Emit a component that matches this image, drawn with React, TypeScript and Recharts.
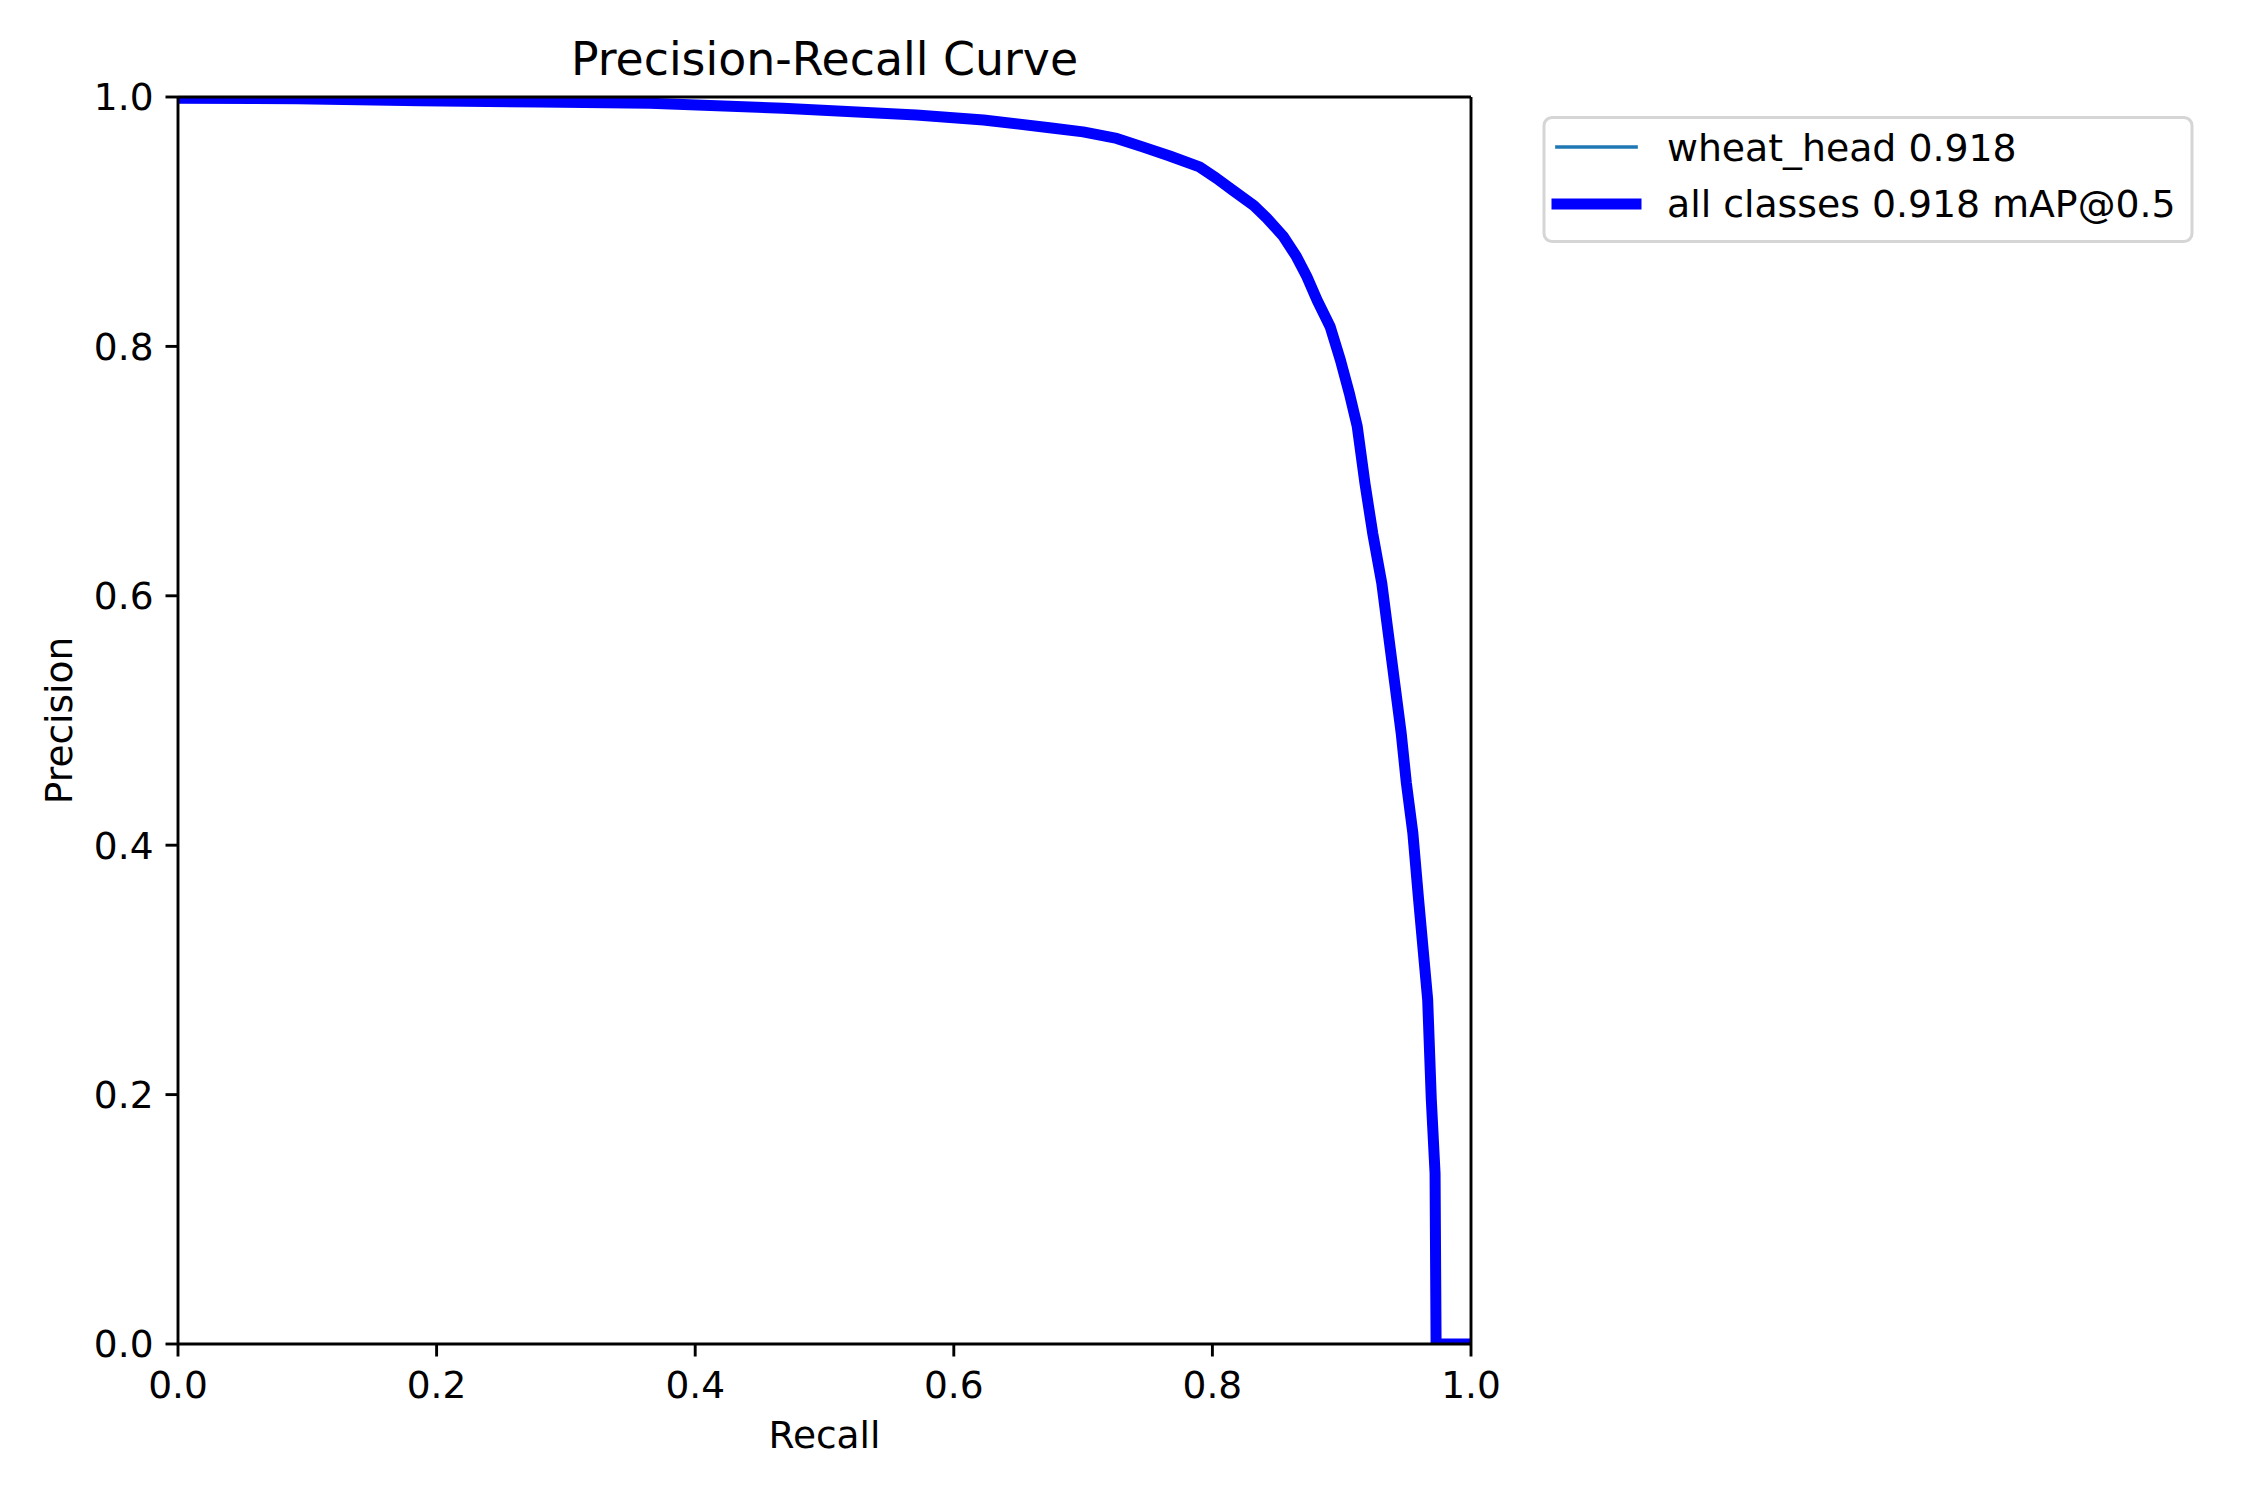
import React from "react";
import { LineChart, Line, XAxis, YAxis, Label, ReferenceLine } from "recharts";

const recall = [0, 0.092, 0.187, 0.28, 0.365, 0.468, 0.571, 0.623, 0.674, 0.7, 0.726, 0.746, 0.767, 0.79, 0.803, 0.816, 0.832, 0.842, 0.855, 0.865, 0.873, 0.881, 0.891, 0.899, 0.906, 0.912, 0.918, 0.924, 0.931, 0.936, 0.941, 0.946, 0.95, 0.955, 0.9595, 0.9665, 0.9693, 0.9722, 0.973, 1.0];
const precision = [0.999, 0.9986, 0.997, 0.996, 0.995, 0.9909, 0.9856, 0.9815, 0.9754, 0.972, 0.9668, 0.96, 0.9527, 0.944, 0.935, 0.925, 0.913, 0.903, 0.888, 0.872, 0.856, 0.837, 0.816, 0.789, 0.762, 0.736, 0.69, 0.65, 0.61, 0.57, 0.53, 0.49, 0.45, 0.41, 0.356, 0.276, 0.196, 0.137, 0.0, 0.0];
const xTicks = [0, 0.2, 0.4, 0.6, 0.8, 1.0];
const yTicks = [0, 0.2, 0.4, 0.6, 0.8, 1.0];
const seriesNames = ["wheat_head 0.918", "all classes 0.918 mAP@0.5"];
const title = "Precision-Recall Curve";

const data = recall.map((r, i) => ({ r, p: precision[i] }));

const FONT = "'DejaVu Sans', sans-serif";
const AX = { stroke: "#000", strokeWidth: 2.9 };

export default function App() {
  return (
    <div style={{ position: "absolute", left: 0, top: 0, width: 2250, height: 1500, background: "#fff" }}>
      <div style={{ position: "absolute", left: 0, top: 0 }}>
        <LineChart width={2250} height={1500} data={data} margin={{ top: 97, right: 779, bottom: 0, left: 0 }}>
          <Line xAxisId="b" yAxisId="l" type="linear" dataKey="p" stroke="#1f77b4" strokeWidth={3.7} dot={false} isAnimationActive={false} strokeLinejoin="round" />
          <Line xAxisId="b" yAxisId="l" type="linear" dataKey="p" stroke="#0000ff" strokeWidth={11} dot={false} isAnimationActive={false} strokeLinejoin="round" />
          <XAxis
            xAxisId="b"
            dataKey="r"
            type="number"
            domain={[0, 1]}
            allowDataOverflow
            ticks={xTicks}
            tickFormatter={(v: number) => v.toFixed(1)}
            height={156}
            tickSize={12.5}
            tickMargin={15}
            axisLine={AX}
            tickLine={AX}
            tick={{ fill: "#000", fontSize: 37.5, fontFamily: FONT }}
            interval={0}
          >
            <Label
              content={(props: any) => {
                const vb = props.viewBox || {};
                return (
                  <text x={vb.x + vb.width / 2} y={1448} textAnchor="middle" fontSize={37.5} fontFamily={FONT} fill="#000">
                    Recall
                  </text>
                );
              }}
            />
          </XAxis>
          <YAxis
            yAxisId="l"
            type="number"
            domain={[0, 1]}
            allowDataOverflow
            ticks={yTicks}
            tickFormatter={(v: number) => v.toFixed(1)}
            width={178}
            tickSize={12.5}
            tickMargin={12}
            axisLine={AX}
            tickLine={AX}
            tick={{ fill: "#000", fontSize: 37.5, fontFamily: FONT }}
            interval={0}
          >
            <Label
              content={(props: any) => {
                const vb = props.viewBox || {};
                const cy = vb.y + vb.height / 2;
                return (
                  <text x={72} y={cy} textAnchor="middle" fontSize={37.5} fontFamily={FONT} fill="#000" transform={`rotate(-90, 72, ${cy})`}>
                    Precision
                  </text>
                );
              }}
            />
          </YAxis>
          <ReferenceLine xAxisId="b" yAxisId="l" y={1} stroke="#000" strokeWidth={2.9} ifOverflow="visible" />
          <ReferenceLine xAxisId="b" yAxisId="l" x={1} stroke="#000" strokeWidth={2.9} ifOverflow="visible" />
        </LineChart>
      </div>
      <svg width={2250} height={300} style={{ position: "absolute", left: 0, top: 0, pointerEvents: "none" }}>
        <text x={824.5} y={75} textAnchor="middle" fontSize={45.8} fontFamily={FONT} fill="#000">
          {title}
        </text>
        <rect x={1544} y={117.5} width={648} height={124} rx={8} ry={8} fill="#fff" stroke="#d5d5d5" strokeWidth={3} />
        <line x1={1557} y1={147} x2={1636} y2={147} stroke="#1f77b4" strokeWidth={3.7} strokeLinecap="square" />
        <line x1={1557} y1={204} x2={1636} y2={204} stroke="#0000ff" strokeWidth={11} strokeLinecap="square" />
        <text x={1667} y={161} fontSize={37.8} fontFamily={FONT} fill="#000">
          {seriesNames[0]}
        </text>
        <text x={1667} y={217} fontSize={37.8} fontFamily={FONT} fill="#000">
          {seriesNames[1]}
        </text>
      </svg>
    </div>
  );
}
